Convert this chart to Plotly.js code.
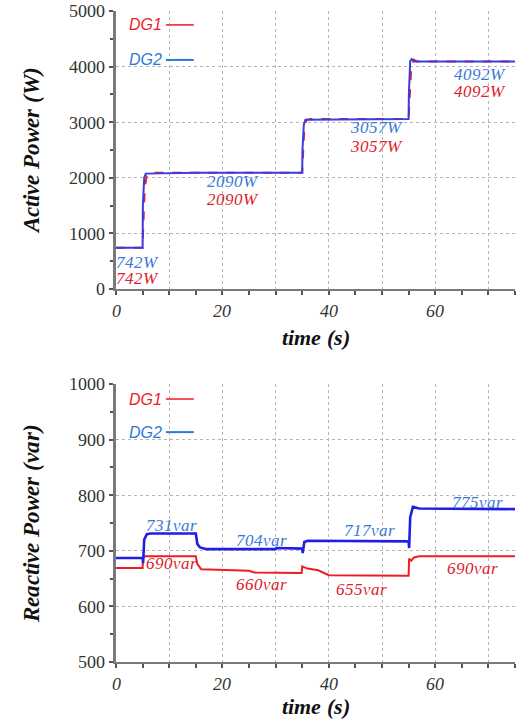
<!DOCTYPE html>
<html><head><meta charset="utf-8">
<script src="https://cdn.plot.ly/plotly-3.0.1.min.js"></script>
<style>
@font-face { font-family: 'RefSerif'; font-style: normal; font-weight: 400; src: local('Liberation Serif'), local('LiberationSerif'); }
@font-face { font-family: 'RefSerif'; font-style: italic; font-weight: 400; src: local('Liberation Serif Italic'), local('LiberationSerif-Italic'); }
@font-face { font-family: 'RefSerif'; font-style: normal; font-weight: 700; src: local('Liberation Serif Bold'), local('LiberationSerif-Bold'); }
@font-face { font-family: 'RefSerif'; font-style: italic; font-weight: 700; src: local('Liberation Serif Bold Italic'), local('LiberationSerif-BoldItalic'); }
html, body { margin: 0; padding: 0; background: #fff; }
</style>
</head><body><div id="plot"></div>
<script>
// ---- Active power (W) ----
const tP1 = [0, 5, 5.15, 5.4, 5.8, 6.5, 15, 35, 35.15, 35.4, 35.8, 36.5, 55, 55.2, 55.5, 56, 56.6, 75];
const pDG1 = [742, 742, 1200, 1800, 2060, 2090, 2090, 2090, 2400, 2900, 3040, 3057, 3057, 3500, 4000, 4120, 4092, 4092];
const tP2 = [0, 5, 5.05, 5.3, 5.6, 15, 15.1, 35, 35.05, 35.3, 35.6, 55, 55.05, 55.3, 55.6, 56.2, 75];
const pDG2 = [742, 742, 1500, 2000, 2075, 2085, 2090, 2090, 2500, 2950, 3045, 3057, 3500, 4100, 4135, 4092, 4092];

// ---- Reactive power (var) ----
const tQ1 = [0, 5, 5.1, 5.4, 15, 15.3, 16, 20, 25, 26, 34.9, 35, 36, 38, 40, 55, 55.1, 55.5, 56, 57, 75];
const qDG1 = [669, 669, 688, 690, 690, 676, 667, 666, 664, 661, 660, 672, 668, 665, 656, 655, 686, 682, 688, 690, 690];
const tQ2 = [0, 5, 5.1, 5.3, 5.8, 6.5, 15, 15.3, 15.8, 17, 30, 30.2, 35, 35.1, 35.4, 36, 55, 55.1, 55.3, 55.8, 57, 75];
const qDG2 = [687, 687, 678, 720, 730, 731, 731, 712, 706, 703, 703, 705, 704, 696, 716, 718, 717, 705, 760, 779, 776, 775];

// ---- value labels ----
const pLabX = [4.1, 22, 49, 68.4];
const pLabBlueY = [485, 1935, 2905, 3865];
const pLabRedY = [180, 1610, 2565, 3550];
const pLabText = ['742W', '2090W', '3057W', '4092W'];

const qLabBlueX = [10.5, 27.4, 47.7, 68];
const qLabBlueY = [746, 718, 737, 787];
const qLabBlueText = ['731var', '704var', '717var', '775var'];
const qLabRedX = [10.5, 27.4, 46.2, 67];
const qLabRedY = [678, 640, 631, 669];
const qLabRedText = ['690var', '660var', '655var', '690var'];

const xTickVals = [0, 10, 20, 30, 40, 50, 60, 70];
const xTickText = ['0', '', '20', '', '40', '', '60', ''];

const SERIF = 'RefSerif, Liberation Serif, serif';

const traces = [
  {x: tP1, y: pDG1, xaxis: 'x', yaxis: 'y', mode: 'lines', line: {color: '#ee1c25', width: 2, dash: 'dash'}, name: 'DG1'},
  {x: tP2, y: pDG2, xaxis: 'x', yaxis: 'y', mode: 'lines', line: {color: '#3b3be0', width: 2}, name: 'DG2'},
  {x: tQ1, y: qDG1, xaxis: 'x2', yaxis: 'y2', mode: 'lines', line: {color: '#ee1c25', width: 2}, name: 'DG1'},
  {x: tQ2, y: qDG2, xaxis: 'x2', yaxis: 'y2', mode: 'lines', line: {color: '#1e1ee8', width: 2.6}, name: 'DG2'}
];

const ann = [];
function lab(x, y, xr, yr, t, c) {
  return {x: x, y: y, xref: xr, yref: yr, text: t, showarrow: false, xanchor: 'center', yanchor: 'middle',
    font: {family: SERIF, size: 17, style: 'italic', color: c}};
}
pLabX.forEach((x, i) => {
  ann.push(lab(x, pLabBlueY[i], 'x', 'y', pLabText[i], '#3a78d8'));
  ann.push(lab(x, pLabRedY[i], 'x', 'y', pLabText[i], '#e0202a'));
});
qLabBlueX.forEach((x, i) => ann.push(lab(x, qLabBlueY[i], 'x2', 'y2', qLabBlueText[i], '#3a78d8')));
qLabRedX.forEach((x, i) => ann.push(lab(x, qLabRedY[i], 'x2', 'y2', qLabRedText[i], '#e0202a')));

// legend-like labels
const shapes = [];
[['x', 'y', 0.95, 0.824], ['x2', 'y2', 0.946, 0.827]].forEach(([xr, yr, y1, y2]) => {
  ann.push({x: 0.075, y: y1, xref: xr + ' domain', yref: yr + ' domain', text: 'DG1', showarrow: false,
    xanchor: 'center', yanchor: 'middle', font: {family: 'Liberation Sans', size: 16, style: 'italic', color: '#ee1c25'}});
  ann.push({x: 0.075, y: y2, xref: xr + ' domain', yref: yr + ' domain', text: 'DG2', showarrow: false,
    xanchor: 'center', yanchor: 'middle', font: {family: 'Liberation Sans', size: 16, style: 'italic', color: '#2f78dc'}});
  shapes.push({type: 'line', xref: xr + ' domain', yref: yr + ' domain', x0: 0.125, x1: 0.195, y0: y1, y1: y1, line: {color: '#ee1c25', width: 1.5}});
  shapes.push({type: 'line', xref: xr + ' domain', yref: yr + ' domain', x0: 0.125, x1: 0.195, y0: y2, y1: y2, line: {color: '#2f78dc', width: 2}});
});

function xAxis(anchor) {
  return {
    anchor: anchor, domain: [0, 1],
    range: [0, 75], tickvals: xTickVals, ticktext: xTickText,
    showgrid: true, gridcolor: '#b5b5b5', griddash: 'dot', gridwidth: 1,
    showline: true, linecolor: '#7a7a7a', linewidth: 2, zeroline: false,
    ticks: 'outside', ticklen: 4, tickcolor: '#555', tickwidth: 1.5,
    minor: {tick0: 0, dtick: 5, ticks: 'outside', ticklen: 4, tickcolor: '#555', showgrid: false},
    tickfont: {family: SERIF, size: 18, style: 'italic', color: '#333'},
    title: {text: 'time (s)', standoff: 10, font: {family: SERIF, size: 22, weight: 'bold', style: 'italic', color: '#111'}}
  };
}
function yAxis(anchor, domain, range, dtick, title) {
  return {
    anchor: anchor, domain: domain, range: range, dtick: dtick,
    showgrid: true, gridcolor: '#b5b5b5', griddash: 'dot', gridwidth: 1,
    showline: true, linecolor: '#7a7a7a', linewidth: 3, zeroline: false,
    ticks: 'outside', ticklen: 4, tickcolor: '#555', tickwidth: 1.5,
    minor: {dtick: dtick / 2, ticks: 'outside', ticklen: 3, tickcolor: '#555', showgrid: false},
    tickfont: {family: SERIF, size: 18, color: '#333'},
    title: {text: title, standoff: 24, font: {family: SERIF, size: 23, weight: 'bold', style: 'italic', color: '#111'}}
  };
}

const layout = {
  width: 525, height: 719,
  margin: {l: 116, r: 10, t: 11, b: 57},
  font: {family: SERIF},
  paper_bgcolor: '#fff', plot_bgcolor: '#fff',
  showlegend: false,
  xaxis: xAxis('y'),
  yaxis: yAxis('x', [0.573, 1], [0, 5000], 1000, 'Active Power (W)'),
  xaxis2: xAxis('y2'),
  yaxis2: yAxis('x2', [0, 0.427], [500, 1000], 100, 'Reactive Power (var)'),
  annotations: ann,
  shapes: shapes
};

Plotly.newPlot('plot', traces, layout, {displayModeBar: false});
</script>
</body></html>
